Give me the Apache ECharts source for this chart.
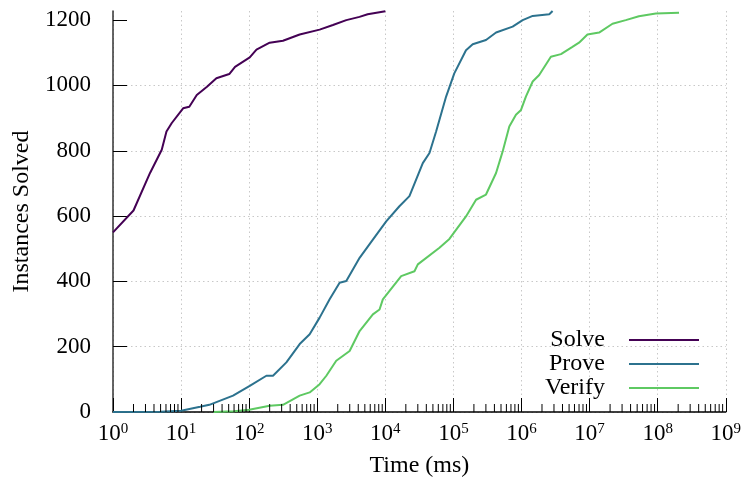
<!DOCTYPE html>
<html>
<head>
<meta charset="utf-8">
<script src="https://cdn.jsdelivr.net/npm/echarts@6/dist/echarts.min.js"></script>
<style>
  html, body { margin: 0; padding: 0; background: #fff; }
  #chart { width: 744px; height: 483px; }
</style>
</head>
<body>
<div id="chart"></div>
<script>
// time (ms) / instances solved
const solveX = [1, 2, 3.5, 5.2, 6.1, 7.3, 10.7, 13.2, 17, 24, 33, 51, 62, 102, 128, 200, 314, 552, 1084, 1700, 2670, 4170, 5500, 10000];
const solveY = [550, 617, 732, 803, 859, 885, 930, 935, 971, 996, 1022, 1035, 1057, 1086, 1110, 1131, 1137, 1156, 1171, 1185, 1200, 1210, 1218, 1227];

const proveX = [1, 5, 10, 19, 26, 58, 102, 179, 224, 352, 552, 774, 1084, 1520, 2130, 2670, 4190, 6560, 10300, 16100, 22600, 35500, 44500, 55700, 78100, 103000, 153000, 192000, 301000, 423000, 741000, 1040000, 1460000, 2560000, 2860000];
const proveY = [0, 1, 4, 16, 22, 50, 80, 111, 111, 152, 208, 238, 289, 345, 396, 401, 472, 528, 584, 630, 661, 762, 793, 859, 966, 1037, 1108, 1126, 1139, 1162, 1180, 1200, 1213, 1218, 1228];

const verifyX = [30, 60, 100, 200, 314, 552, 774, 1084, 1360, 1900, 2990, 4190, 6560, 8220, 9190, 17100, 26800, 30000, 62400, 87300, 153000, 215000, 301000, 423000, 529000, 662000, 829000, 984000, 1160000, 1460000, 1820000, 2700000, 3800000, 5600000, 7000000, 9300000, 13800000, 21700000, 34000000, 53000000, 94000000, 206000000];
const verifyY = [0, 2, 7, 19, 22, 50, 60, 85, 111, 157, 187, 248, 299, 314, 345, 416, 431, 452, 503, 530, 599, 650, 666, 732, 798, 874, 910, 925, 966, 1012, 1032, 1088, 1096, 1118, 1131, 1156, 1162, 1189, 1200, 1212, 1220, 1223];

const seriesNames = ['Solve', 'Prove', 'Verify'];
const seriesColors = ['#440154', '#2c728e', '#5ec962'];
const yTicks = [0, 200, 400, 600, 800, 1000, 1200];

// minor ticks 2..9 of every decade
const minorTicks = [];
for (let d = 0; d < 9; d++) {
    for (let k = 2; k <= 9; k++) {
        minorTicks.push([k * Math.pow(10, d), 0]);
    }
}

function pairs(xs, ys) {
    return xs.map(function (x, i) { return [x, ys[i]]; });
}

const font = 'Liberation Serif';
const chart = echarts.init(document.getElementById('chart'));

const lineSeries = [pairs(solveX, solveY), pairs(proveX, proveY), pairs(verifyX, verifyY)].map(function (d, i) {
    return {
        name: seriesNames[i],
        type: 'line',
        data: d,
        showSymbol: false,
        color: seriesColors[i],
        lineStyle: { width: 2, color: seriesColors[i] },
        z: 3
    };
});

const option = {
    animation: false,
    backgroundColor: '#fff',
    textStyle: { fontFamily: font },
    grid: { left: 113, right: 17, top: 11, bottom: 70 },
    legend: {
        data: seriesNames,
        orient: 'vertical',
        align: 'right',
        right: 45,
        top: 328,
        padding: 0,
        itemGap: 0,
        itemWidth: 70,
        itemHeight: 2,
        icon: 'rect',
        textStyle: { fontFamily: font, fontSize: 24, color: '#000', lineHeight: 23, padding: [0, 19, 0, 0] }
    },
    xAxis: {
        type: 'log',
        logBase: 10,
        min: 1,
        max: 1e9,
        interval: 1,
        splitNumber: 9,
        name: 'Time (ms)',
        nameLocation: 'middle',
        nameGap: 42,
        nameTextStyle: { fontFamily: font, fontSize: 24, color: '#000' },
        axisLine: { lineStyle: { color: '#000', width: 1.5 } },
        axisTick: { inside: true, length: 14, lineStyle: { color: '#000' } },
        axisLabel: {
            margin: 10,
            color: '#000',
            formatter: function (v) {
                return '{b|10}{s|' + Math.round(Math.log10(v)) + '}';
            },
            rich: {
                b: { fontFamily: font, fontSize: 23, lineHeight: 24, color: '#000' },
                s: { fontFamily: font, fontSize: 15, lineHeight: 15, verticalAlign: 'top', color: '#000' }
            }
        },
        splitLine: { show: true, lineStyle: { color: '#c8c8c8', type: [1.5, 3], width: 1 } }
    },
    yAxis: {
        type: 'value',
        min: 0,
        max: 1228,
        interval: 200,
        name: 'Instances Solved',
        nameLocation: 'middle',
        nameRotate: 90,
        nameGap: 75,
        nameTextStyle: { fontFamily: font, fontSize: 24, color: '#000' },
        axisLine: { show: true, lineStyle: { color: '#333', width: 1.5 } },
        axisTick: { show: true, inside: true, length: 14, customValues: yTicks, lineStyle: { color: '#000' } },
        axisLabel: {
            margin: 22, fontFamily: font, fontSize: 23, color: '#000', customValues: yTicks,
            formatter: function (v) { return String(v); }
        },
        splitLine: { show: true, showMaxLine: false, lineStyle: { color: '#c8c8c8', type: [1.5, 3], width: 1 } }
    },
    series: lineSeries.concat([{
        name: 'minor',
        type: 'custom',
        data: minorTicks,
        silent: true,
        z: 4,
        renderItem: function (params, api) {
            const p = api.coord([api.value(0), 0]);
            return {
                type: 'line',
                shape: { x1: p[0], y1: p[1], x2: p[0], y2: p[1] - 8 },
                style: { stroke: '#000', lineWidth: 1 }
            };
        }
    }])
};

chart.setOption(option);
</script>
</body>
</html>
